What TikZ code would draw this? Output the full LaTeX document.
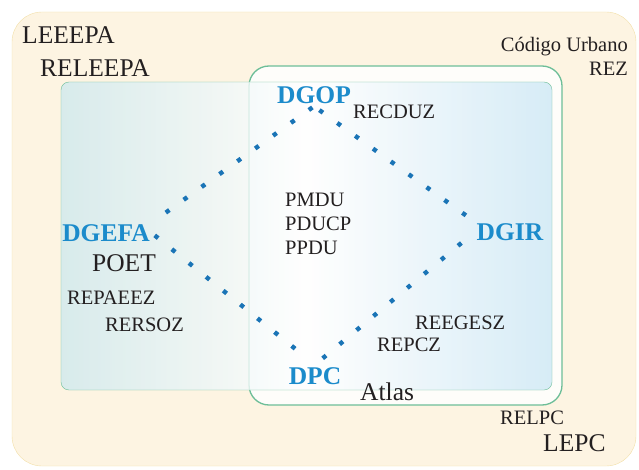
\documentclass[tikz,border=0pt]{standalone}
\usepackage{fontspec}
\setmainfont{LiberationSerif}[Extension=.ttf, UprightFont=*-Regular, BoldFont=*-Bold]
\usetikzlibrary{positioning}
\definecolor{sand}{HTML}{FDF4E2}
\definecolor{sandline}{HTML}{F2DFA8}
\definecolor{frame}{HTML}{6DBE98}
\definecolor{agency}{HTML}{1B8BCB}
\definecolor{dotblue}{HTML}{1A74B6}
\definecolor{ink}{HTML}{231F20}
\definecolor{hazeleft}{HTML}{CFE9EE}
\definecolor{hazeright}{HTML}{CDE8F6}

\begin{document}
\begin{tikzpicture}[x=1pt, y=-1pt,
    big/.style={inner sep=0pt, text=ink, font=\fontsize{25.5}{28}\selectfont},
    small/.style={inner sep=0pt, text=ink, font=\fontsize{20.5}{24}\selectfont},
    office/.style={inner sep=2.5pt, text=agency, font=\bfseries\fontsize{25.5}{28}\selectfont},
    link/.style={draw=dotblue, line width=4.4pt, dash pattern=on 4.4pt off 17.6pt}
]
\useasboundingbox (0,0) rectangle (639,470);
% frames
\draw[sandline, fill=sand, rounded corners=30pt] (12,12) rectangle (636,466);
\draw[frame, line width=1.3pt, fill=white, fill opacity=0.85, rounded corners=20pt] (249,66) rectangle (562,405);
\shade[left color=hazeleft, right color=hazeright, middle color=white, opacity=0.8, rounded corners=8pt] (61,82) rectangle (552,390);
\draw[frame, rounded corners=8pt] (61,82) rectangle (552,390);

% offices
\node[office] (dgop) at (314,95) {DGOP};
\node[office] (dgefa) at (106,233.5) {DGEFA};
\node[office] (dgir) at (510,232.5) {DGIR};
\node[office] (dpc) at (315,376) {DPC};

\draw[link, shorten <=2pt] (dgop.south) -- (dgefa.north east);
\draw[link, shorten <=3pt, shorten >=10pt] (dgefa.east) -- (dpc.north);
\draw[link, shorten <=10pt, shorten >=10pt] (dpc.north) -- (dgir.west);
\draw[link, shorten <=10pt, shorten >=2pt] (dgir.north west) -- (dgop.south);

% instruments
\node[big, anchor=west] (leeepa) at (22,35.5) {LEEEPA};
\node[big, anchor=west] (releepa) at (40,68.5) {RELEEPA};
\node[small, align=right, anchor=east] (codigo) at (628,56) {Código Urbano\\REZ};
\node[small, anchor=west] (recduz) at (353,111.5) {RECDUZ};
\node[small, align=left, anchor=west] (planes) at (285,223.5) {PMDU\\PDUCP\\PPDU};
\node[big] (poet) at (124,263) {POET};
\node[small, anchor=west] (repaeez) at (67,298) {REPAEEZ};
\node[small, anchor=west] (rersoz) at (105,325) {RERSOZ};
\node[small, anchor=west] (reegesz) at (415,323) {REEGESZ};
\node[small, anchor=west] (repcz) at (377,345) {REPCZ};
\node[big, anchor=west] (atlas) at (360,392) {Atlas};
\node[small, anchor=west] (relpc) at (500,418) {RELPC};
\node[big, anchor=west] (lepc) at (543,443) {LEPC};
\end{tikzpicture}
\end{document}
